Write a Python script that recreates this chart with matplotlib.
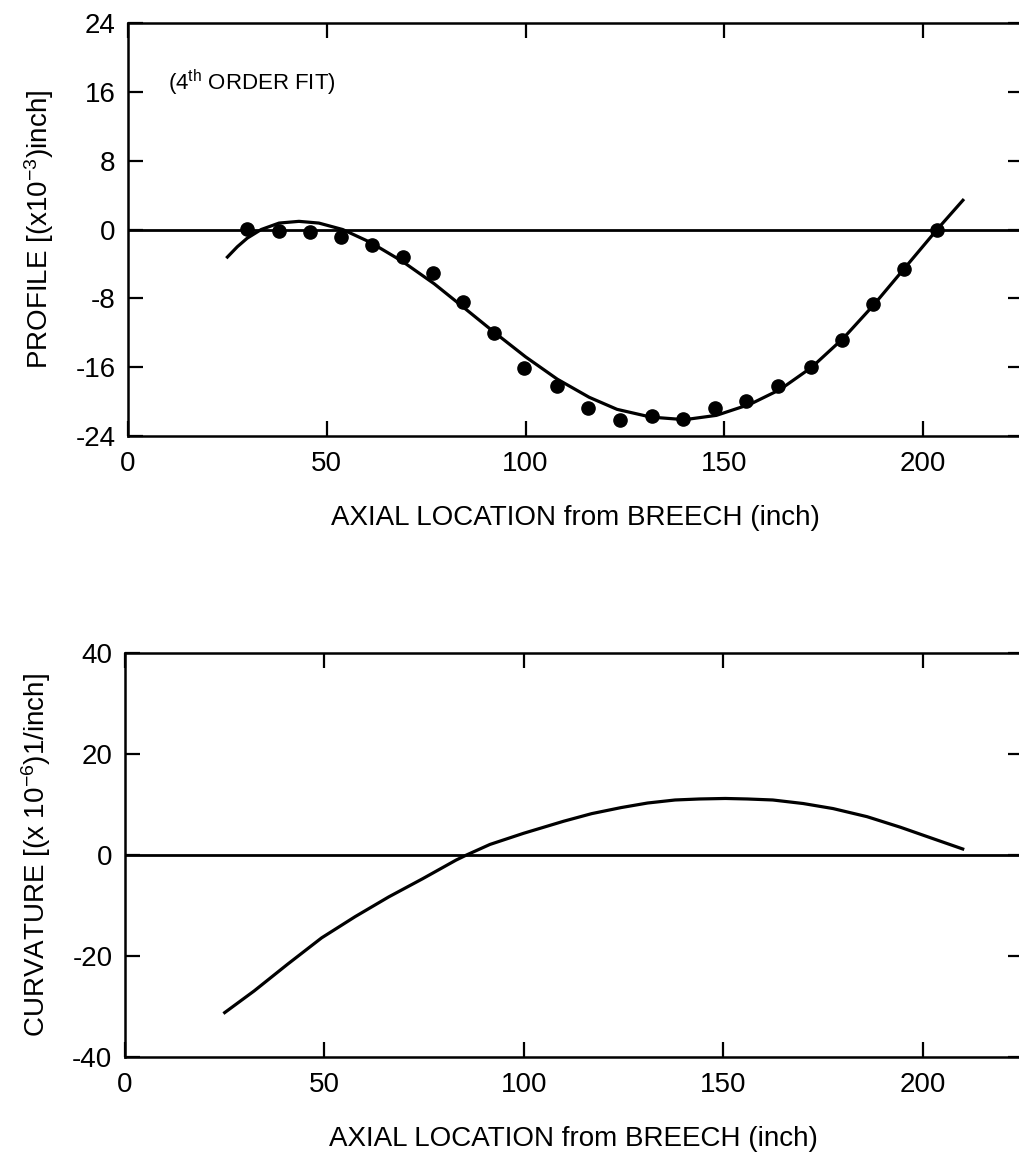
import matplotlib
matplotlib.use("Agg")
import matplotlib.pyplot as plt

plt.rcParams['font.family'] = ['Liberation Sans', 'DejaVu Sans']
plt.rcParams['mathtext.default'] = 'regular'
plt.rcParams['axes.unicode_minus'] = False

# measured profile points (dots)
x_meas = [30.0, 37.9, 45.7, 53.6, 61.3, 69.1, 76.6, 84.3, 92.1, 99.7, 108.0, 115.8,
          123.8, 131.7, 139.6, 147.6, 155.4, 163.6, 171.7, 179.6, 187.4, 195.3, 203.5]
profile_meas = [0.1, -0.15, -0.3, -0.9, -1.8, -3.2, -5.1, -8.4, -12.0, -16.1, -18.2, -20.7,
                -22.1, -21.7, -22.0, -20.7, -19.9, -18.2, -16.0, -12.8, -8.6, -4.6, 0.0]

# 4th order fit curve
x_fit = [25, 27.5, 30, 33.5, 38, 43, 48, 54, 61, 69, 77, 84, 92, 100, 108, 116, 123,
         131.5, 140, 148, 156.5, 164, 172, 180, 187.5, 195.5, 203.5, 210]
profile_fit = [-3.2, -2.0, -1.0, 0.0, 0.75, 0.95, 0.75, 0.0, -1.5, -3.7, -6.3, -8.9, -11.9,
               -14.8, -17.4, -19.5, -20.9, -21.8, -22.1, -21.6, -20.3, -18.6, -16.0, -12.6,
               -8.8, -4.4, 0.0, 3.4]

# curvature curve
x_curv = [25, 32.4, 40.8, 49.3, 57.7, 66.1, 74.6, 83, 85.6, 91.5, 99.9, 110, 117, 124.4,
          131, 137.9, 144, 150.5, 156, 162.4, 170, 177.5, 186, 194.4, 202, 210]
curvature = [-31.2, -26.9, -21.6, -16.4, -12.2, -8.3, -4.7, -1.0, 0.0, 2.1, 4.3, 6.7, 8.2, 9.4,
             10.3, 10.9, 11.1, 11.2, 11.1, 10.9, 10.2, 9.2, 7.6, 5.5, 3.4, 1.2]

xticks = [0, 50, 100, 150, 200]
xlabel = "AXIAL LOCATION from BREECH (inch)"

fig = plt.figure(figsize=(10.2, 11.63), dpi=100)
ax1 = fig.add_axes([0.1255, 0.6251, 0.877, 0.3551])
ax2 = fig.add_axes([0.1225, 0.0911, 0.880, 0.3474])


def style(ax, yticks):
    for s in ax.spines.values():
        s.set_linewidth(1.8)
    ax.spines['right'].set_visible(False)
    ax.set_xlim(0, 225)
    ax.set_xticks(xticks)
    ax.set_yticks(yticks)
    ax.set_ylim(yticks[0], yticks[-1])
    ax.tick_params(direction='in', top=True, right=True, length=11, width=1.6,
                   labelsize=20)
    ax.tick_params(axis='x', pad=11)
    ax.tick_params(axis='y', pad=9)
    ax.axhline(0, color='black', lw=2.0)
    ax.set_xlabel(xlabel, fontsize=20, labelpad=20)


style(ax1, [-24, -16, -8, 0, 8, 16, 24])
ax1.plot(x_fit, profile_fit, color='black', lw=2.3, solid_joinstyle='round')
ax1.plot(x_meas, profile_meas, 'o', color='black', markersize=9.5)
ax1.set_ylabel("PROFILE [(x10$^{-3}$)inch]", fontsize=20, labelpad=14)
ax1.text(10, 17, "(4$^{th}$ ORDER FIT)", fontsize=16, va='center', ha='left')

style(ax2, [-40, -20, 0, 20, 40])
ax2.plot(x_curv, curvature, color='black', lw=2.3, solid_joinstyle='round')
ax2.set_ylabel("CURVATURE [(x 10$^{-6}$)1/inch]", fontsize=20, labelpad=14)

fig.savefig("out.png", dpi=100)
